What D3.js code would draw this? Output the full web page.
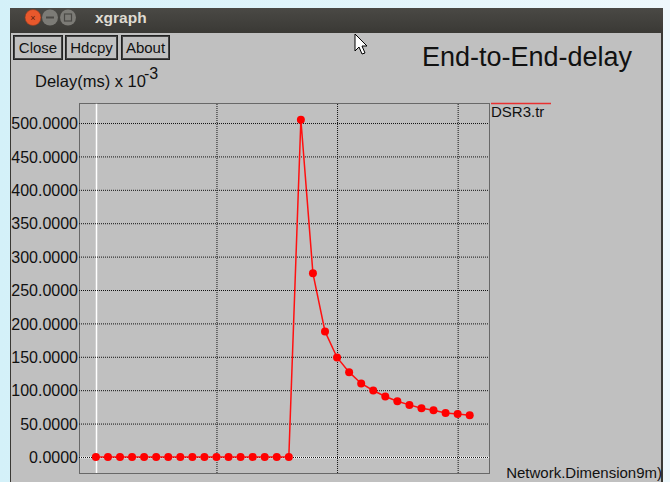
<!DOCTYPE html>
<html>
<head>
<meta charset="utf-8">
<script src="https://cdn.jsdelivr.net/npm/d3@7/dist/d3.min.js"></script>
<style>
  html, body { margin: 0; padding: 0; background: #dff4fa; }
  svg { display: block; font-family: "Liberation Sans", Arial, sans-serif; }
</style>
</head>
<body>
<svg id="chart" width="670" height="482"></svg>
<script>
// Series: end-to-end delay vs network dimension (DSR3.tr)
const xValues = [0, 1, 2, 3, 4, 5, 6, 7, 8, 9, 10, 11, 12, 13, 14, 15, 16,
                 17, 18, 19, 20, 21, 22, 23, 24, 25, 26, 27, 28, 29, 30, 31];
const delayValues = [0, 0, 0, 0, 0, 0, 0, 0, 0, 0, 0, 0, 0, 0, 0, 0, 0,
                     505, 275, 188, 149, 127, 110, 99.5, 90.5, 83.5, 78, 73, 70, 66, 64.5, 62.5];
const yTicks = [0, 50, 100, 150, 200, 250, 300, 350, 400, 450, 500];
const xTicks = [10, 20, 30];
const buttonLabels = ["Close", "Hdcpy", "About"];
const seriesName = "DSR3.tr";
const chartTitle = "End-to-End-delay";
const yAxisTitle = "Delay(ms) x 10";
const yAxisExponent = "-3";
const xAxisTitle = "Network.Dimension9m)";

const svg = d3.select("#chart");

// desktop backdrop
const defs = svg.append("defs");
const bg = defs.append("linearGradient").attr("id", "desk").attr("x1", 0).attr("x2", 1).attr("y1", 0).attr("y2", 0);
bg.append("stop").attr("offset", "0%").attr("stop-color", "#d4f1f9");
bg.append("stop").attr("offset", "100%").attr("stop-color", "#eef8fc");
svg.append("rect").attr("width", 670).attr("height", 482).attr("fill", "url(#desk)");

// window body
svg.append("rect").attr("x", 10).attr("y", 8).attr("width", 653).attr("height", 480)
  .attr("fill", "#3a3935");
svg.append("rect").attr("x", 11).attr("y", 33).attr("width", 650).attr("height", 455)
  .attr("fill", "#c0c0c0");

// title bar
const tb = defs.append("linearGradient").attr("id", "tbar").attr("x1", 0).attr("x2", 0).attr("y1", 0).attr("y2", 1);
tb.append("stop").attr("offset", "0%").attr("stop-color", "#4a4945");
tb.append("stop").attr("offset", "100%").attr("stop-color", "#3a3935");
svg.append("rect").attr("x", 10).attr("y", 8).attr("width", 653).attr("height", 25).attr("fill", "url(#tbar)");
svg.append("circle").attr("cx", 33).attr("cy", 17.5).attr("r", 8).attr("fill", "#e8582c").attr("stroke", "#8a3a20").attr("stroke-width", 0.6);
svg.append("text").attr("x", 33).attr("y", 21).attr("text-anchor", "middle").attr("font-size", 9).attr("fill", "#5a2010").text("×");
svg.append("circle").attr("cx", 50).attr("cy", 17.5).attr("r", 8).attr("fill", "#7c7b76");
svg.append("rect").attr("x", 46).attr("y", 16.5).attr("width", 8).attr("height", 2).attr("fill", "#4a4945");
svg.append("circle").attr("cx", 68).attr("cy", 17.5).attr("r", 8).attr("fill", "#7c7b76");
svg.append("rect").attr("x", 64.5).attr("y", 14).attr("width", 7).attr("height", 7).attr("fill", "none").attr("stroke", "#4a4945").attr("stroke-width", 1.2);
svg.append("text").attr("x", 95).attr("y", 23).attr("font-size", 15.5).attr("font-weight", "bold")
  .attr("fill", "#dfdbd2").text("xgraph");

// buttons
const buttonX = [13, 65, 121];
const buttonW = [49, 52, 48];
buttonLabels.forEach((label, i) => {
  const g = svg.append("g").attr("transform", `translate(${buttonX[i]},35)`);
  g.append("rect").attr("x", 0.5).attr("y", 0.5).attr("width", buttonW[i]).attr("height", 24)
    .attr("fill", "#c0c0c0").attr("stroke", "#222").attr("stroke-width", 1);
  g.append("rect").attr("x", 1.5).attr("y", 1.5).attr("width", buttonW[i] - 2).attr("height", 22)
    .attr("fill", "none").attr("stroke", "#444").attr("stroke-width", 1);
  g.append("text").attr("x", buttonW[i] / 2 + 0.5).attr("y", 18).attr("text-anchor", "middle")
    .attr("font-size", 15).attr("fill", "#111").text(label);
});

// pointer cursor
svg.append("path")
  .attr("d", "M355,34 L355,51 L359,47 L362,54 L365,53 L362,46 L367,46 Z")
  .attr("fill", "#fff").attr("stroke", "#000").attr("stroke-width", 1);

// chart title
svg.append("text").attr("x", 422).attr("y", 66).attr("font-size", 27).attr("fill", "#111").text(chartTitle);

// y axis title with exponent
const yt = svg.append("text").attr("x", 35).attr("y", 87).attr("font-size", 16.5).attr("fill", "#111");
yt.append("tspan").text(yAxisTitle);
yt.append("tspan").attr("dx", -2).attr("dy", -8).attr("font-size", 16).text(yAxisExponent);

// plot geometry
const plotLeft = 79, plotRight = 489, plotTop = 103, plotBottom = 473;
const x = d3.scaleLinear().domain([-1.4, 32.6]).range([plotLeft, plotRight]);
const y = d3.scaleLinear().domain([-24, 530]).range([plotBottom, plotTop]);

const dotted = sel => sel.attr("stroke", "#111").attr("stroke-width", 1).attr("stroke-dasharray", "1,1");

// zero lines (white)
svg.append("line").attr("x1", plotLeft).attr("x2", plotRight)
  .attr("y1", Math.round(y(0)) + 0.5).attr("y2", Math.round(y(0)) + 0.5)
  .attr("stroke", "#fff").attr("stroke-width", 1.5);
svg.append("line").attr("x1", Math.round(x(0)) + 0.5).attr("x2", Math.round(x(0)) + 0.5)
  .attr("y1", plotTop).attr("y2", plotBottom)
  .attr("stroke", "#fff").attr("stroke-width", 1.5);

// y axis with horizontal grid
const yAxis = d3.axisLeft(y).tickValues(yTicks).tickFormat(d3.format(".4f"))
  .tickSize(-(plotRight - plotLeft)).tickPadding(1);
const yg = svg.append("g").attr("transform", `translate(${plotLeft},0)`).call(yAxis);
yg.select(".domain").remove();
yg.selectAll(".tick line").call(dotted);
yg.selectAll(".tick text").attr("font-size", 16).attr("fill", "#111")
  .attr("font-family", "Liberation Sans, Arial, sans-serif").attr("dy", "0.36em");

// x axis grid
const xAxis = d3.axisBottom(x).tickValues(xTicks).tickFormat("").tickSize(-(plotBottom - plotTop));
const xg = svg.append("g").attr("transform", `translate(0,${plotBottom})`).call(xAxis);
xg.select(".domain").remove();
xg.selectAll(".tick line").call(dotted);

// plot frame
svg.append("rect").attr("x", plotLeft + 0.5).attr("y", plotTop + 0.5)
  .attr("width", plotRight - plotLeft).attr("height", plotBottom - plotTop)
  .attr("fill", "none").call(dotted);

// series line and markers
const pts = xValues.map((v, i) => [v, delayValues[i]]);
svg.append("path").datum(pts)
  .attr("d", d3.line().x(d => x(d[0])).y(d => y(d[1])))
  .attr("fill", "none").attr("stroke", "#ff1010").attr("stroke-width", 1.5);
svg.append("g").selectAll("circle").data(pts).join("circle")
  .attr("cx", d => x(d[0])).attr("cy", d => y(d[1])).attr("r", 4).attr("fill", "#ff0000");

// legend
svg.append("line").attr("x1", 491).attr("x2", 551).attr("y1", 103.5).attr("y2", 103.5)
  .attr("stroke", "#e83030").attr("stroke-width", 1.5);
svg.append("text").attr("x", 491).attr("y", 117).attr("font-size", 15).attr("fill", "#111").text(seriesName);

// x axis title
svg.append("text").attr("x", 662).attr("y", 478).attr("text-anchor", "end").attr("font-size", 15)
  .attr("fill", "#111").text(xAxisTitle);
</script>
</body>
</html>
